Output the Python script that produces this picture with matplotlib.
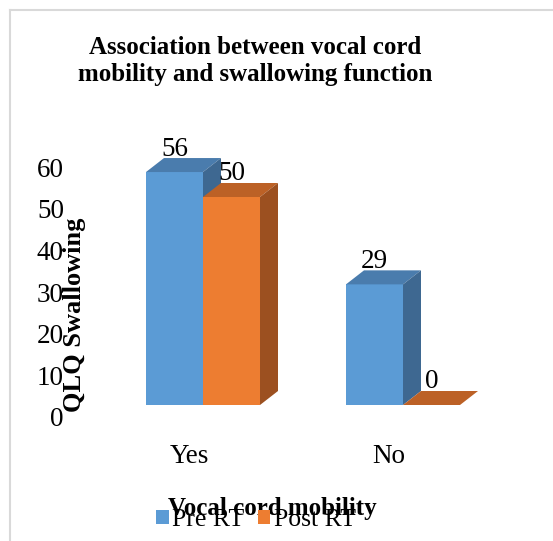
import matplotlib
matplotlib.use("Agg")
import matplotlib.pyplot as plt
import matplotlib.transforms as mtransforms
from matplotlib.patches import Polygon, Patch
from matplotlib.lines import Line2D

plt.rcParams["font.family"] = ["Liberation Serif", "DejaVu Serif"]

categories = ["Yes", "No"]
series_names = ["Pre RT", "Post RT"]
pre_rt = [56, 29]
post_rt = [50, 0]

# front, top and side shades for each series
colors = {
    "Pre RT": ("#5b9bd5", "#4a7cad", "#3e6891"),
    "Post RT": ("#ed7d31", "#bc6126", "#9c5020"),
}

W, H = 553, 541
fig = plt.figure(figsize=(W / 100, H / 100), dpi=100)

# axes placed in pixel terms so the extrusion depth can be given in pixels
ax_left, ax_right, ax_top, ax_bottom = 100, 500, 130, 405
ax = fig.add_axes([ax_left / W, (H - ax_bottom) / H,
                   (ax_right - ax_left) / W, (ax_bottom - ax_top) / H])
px_per_x = 200.0      # pixels between category centres
px_per_y = 4.16       # pixels per unit of value
x0_px = 203           # pixel of the first category centre
ax.set_xlim((ax_left - x0_px) / px_per_x, (ax_right - x0_px) / px_per_x)
ax.set_ylim(0, (ax_bottom - ax_top) / px_per_y)

bar_w = 57 / px_per_x
depth_x = 18 / px_per_x
depth_y = 14 / px_per_y


def draw_bar(x_left, value, shades):
    front, top, side = shades
    x_right = x_left + bar_w
    if value > 0:
        ax.add_patch(Polygon([(x_left, 0), (x_right, 0), (x_right, value), (x_left, value)],
                             closed=True, facecolor=front, edgecolor="none", clip_on=False))
    ax.add_patch(Polygon([(x_left, value), (x_right, value),
                          (x_right + depth_x, value + depth_y), (x_left + depth_x, value + depth_y)],
                         closed=True, facecolor=top, edgecolor="none", clip_on=False))
    if value > 0:
        ax.add_patch(Polygon([(x_right, 0), (x_right + depth_x, depth_y),
                              (x_right + depth_x, value + depth_y), (x_right, value)],
                             closed=True, facecolor=side, edgecolor="none", clip_on=False))
    # value label sits a fixed distance above the front top edge
    label_tr = ax.transData + mtransforms.ScaledTranslation(0, 23 / 100, fig.dpi_scale_trans)
    ax.text(x_left + bar_w / 2, value, f"{value}", transform=label_tr,
            ha="center", va="center", fontsize=19.5, color="black")


for i, cat in enumerate(categories):
    draw_bar(i - bar_w, pre_rt[i], colors["Pre RT"])
    draw_bar(i, post_rt[i], colors["Post RT"])

for s in ax.spines.values():
    s.set_visible(False)
ax.set_facecolor("none")

ax.set_yticks(range(0, 61, 10))
ax.set_xticks(range(len(categories)))
ax.set_xticklabels(categories)
ax.tick_params(axis="both", length=0, labelsize=19.5)
ax.tick_params(axis="y", pad=26)
ax.tick_params(axis="x", pad=28)

y_shift = mtransforms.ScaledTranslation(0, -12 / 100, fig.dpi_scale_trans)
for lbl in ax.get_yticklabels():
    lbl.set_transform(lbl.get_transform() + y_shift)
x_shift = mtransforms.ScaledTranslation(-14 / 100, 0, fig.dpi_scale_trans)
for lbl in ax.get_xticklabels():
    lbl.set_transform(lbl.get_transform() + x_shift)

ax.set_ylabel("QLQ Swallowing", fontsize=19, fontweight="bold", va="center")
ax.yaxis.set_label_coords((75 - ax_left) / (ax_right - ax_left),
                          (ax_bottom - 315) / (ax_bottom - ax_top))

fig.text(255 / W, 1 - 61 / H, "Association between vocal cord\nmobility and swallowing function",
         ha="center", va="center", fontsize=18, fontweight="bold", linespacing=1.25)
fig.text(272 / W, 1 - 508 / H, "Vocal cord mobility", ha="center", va="center",
         fontsize=18, fontweight="bold")

handles = [Patch(facecolor=colors[n][0]) for n in series_names]
fig.legend(handles, series_names, loc="center", bbox_to_anchor=(256 / W, 1 - 520 / H),
           ncol=2, frameon=False, fontsize=18.5, handlelength=0.5, handleheight=0.5,
           handletextpad=0.15, columnspacing=0.5, borderpad=0)

# thin chart-area border along the top and left edges
fig.add_artist(Line2D([10 / W, 1], [1 - 10 / H, 1 - 10 / H], color="#d9d9d9", lw=1.5))
fig.add_artist(Line2D([10 / W, 10 / W], [0, 1 - 10 / H], color="#d9d9d9", lw=1.5))

fig.savefig("out.png", dpi=100)
